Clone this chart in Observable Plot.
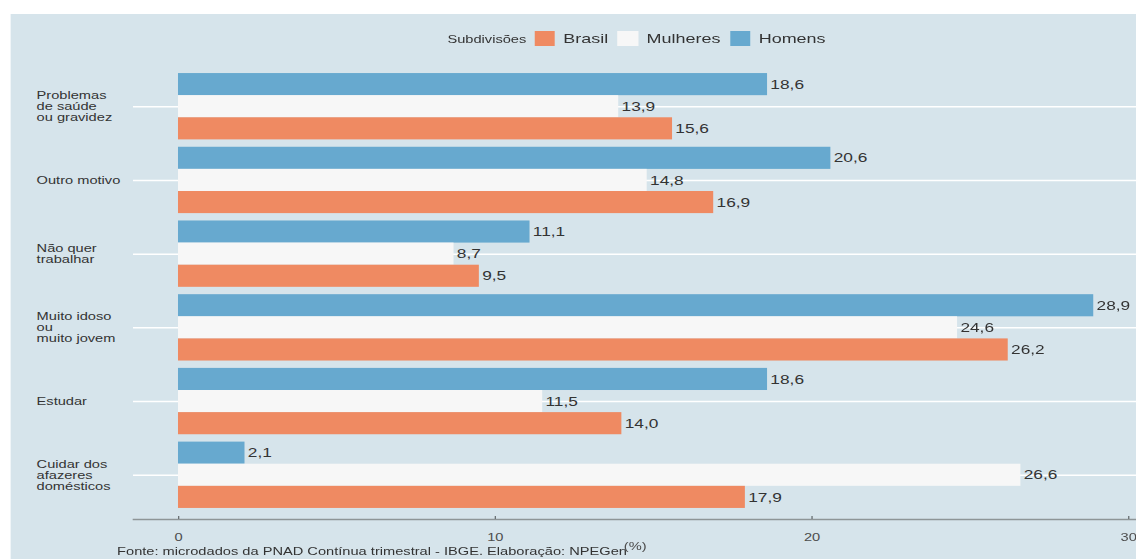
<!DOCTYPE html>
<html>
<head>
<meta charset="utf-8">
<script src="https://cdn.jsdelivr.net/npm/d3@7"></script>
<script src="https://cdn.jsdelivr.net/npm/@observablehq/plot@0.6"></script>
<style>
  html, body { margin: 0; padding: 0; background: #ffffff; width: 1136px; height: 559px; overflow: hidden; }
  #wrap { position: absolute; left: 0; top: 0; width: 854px; height: 559px; transform: scaleX(1.3302); transform-origin: 0 0; font-family: "Liberation Sans", Arial, sans-serif; }
  #panel { position: absolute; left: 7.5px; top: 14px; width: 846.5px; height: 545px; background: #d6e4eb; }
  #legend { position: absolute; left: 55px; width: 854px; top: 30px; height: 17px; display: flex; justify-content: center; align-items: center; color: #333; }
  #legend .title { font-size: 11px; margin-right: 6px; color: #333; }
  #legend .sw { width: 15.8px; height: 15px; margin-right: 6px; }
  #legend .lab { font-size: 13.5px; margin-right: 7px; }
  #chart { position: absolute; left: 0; top: 60px; }
  #caption { position: absolute; left: 88px; top: 545px; font-size: 11px; color: #333; white-space: nowrap; line-height: 13px; }
</style>
</head>
<body>
<div id="wrap">
  <div id="panel"></div>
  <div id="legend"></div>
  <div id="chart"></div>
  <div id="caption">Fonte: microdados da PNAD Contínua trimestral - IBGE. Elaboração: NPEGen</div>
</div>
<script>
// ---- data ----
const categories = [
  "Problemas\nde saúde\nou gravidez",
  "Outro motivo",
  "Não quer\ntrabalhar",
  "Muito idoso\nou\nmuito jovem",
  "Estudar",
  "Cuidar dos\nafazeres\ndomésticos"
];
const homens   = [18.6, 20.6, 11.1, 28.9, 18.6, 2.1];
const mulheres = [13.9, 14.8, 8.7, 24.6, 11.5, 26.6];
const brasil   = [15.6, 16.9, 9.5, 26.2, 14.0, 17.9];
const series = ["Brasil", "Mulheres", "Homens"];
const seriesColors = ["#ef8a62", "#f7f7f7", "#67a9cf"];
const xTicks = [0, 10, 20, 30];
const legendTitle = "Subdivisões";
const axisLabel = "(%)";

// ---- table ----
const rows = categories.flatMap((c, i) => [
  {cat: c, sub: "Homens", v: homens[i]},
  {cat: c, sub: "Mulheres", v: mulheres[i]},
  {cat: c, sub: "Brasil", v: brasil[i]}
]);

// ---- layout ----
const W = 854, H = 499, mT = 2, mB = 40, mL = 100, mR = 0;
const padIn = 0.1, padOut = 0.15;
const step = (H - mT - mB) / (categories.length - padIn + 2 * padOut);
const bw = step * (1 - padIn);
const sub = bw / 3;
const slot = {Homens: 0, Mulheres: 1, Brasil: 2};
const fmt = v => v.toFixed(1).replace(".", ",");

// ---- legend ----
const legend = document.getElementById("legend");
const t = document.createElement("span");
t.className = "title"; t.textContent = legendTitle; legend.appendChild(t);
series.forEach((s, i) => {
  const sw = document.createElement("span");
  sw.className = "sw"; sw.style.background = seriesColors[i];
  legend.appendChild(sw);
  const l = document.createElement("span");
  l.className = "lab"; l.textContent = s;
  legend.appendChild(l);
});

const barMarks = ["Homens", "Mulheres", "Brasil"].map(s =>
  Plot.barX(rows.filter(d => d.sub === s), {
    x: "v", y: "cat", fill: "sub",
    insetTop: slot[s] * sub,
    insetBottom: (2 - slot[s]) * sub
  })
);
const labelMarks = ["Homens", "Mulheres", "Brasil"].map(s =>
  Plot.text(rows.filter(d => d.sub === s), {
    x: "v", y: "cat", text: d => fmt(d.v),
    dy: (slot[s] - 1) * sub, dx: 2,
    textAnchor: "start", fill: "#333", fontSize: 13
  })
);

const chart = Plot.plot({
  width: W, height: H,
  marginLeft: mL, marginRight: mR, marginTop: mT, marginBottom: mB,
  style: {background: "transparent", fontFamily: "'Liberation Sans', Arial, sans-serif", fontSize: "11px", color: "#333", overflow: "visible"},
  x: {domain: [-1.42, 30.25], label: null},
  y: {domain: categories, paddingInner: padIn, paddingOuter: padOut, round: false, label: null},
  color: {domain: series, range: seriesColors},
  marks: [
    Plot.ruleY(categories, {y: d => d, stroke: "#ffffff", strokeWidth: 1.5}),
    ...barMarks,
    Plot.frame({anchor: "bottom", stroke: "#8e9597", strokeWidth: 1.5}),
    Plot.axisX({ticks: xTicks, tickSize: 3, tickFormat: () => "", dy: -3, stroke: "#6b7275", label: null}),
    Plot.axisX({ticks: xTicks, tickSize: 0, tickPadding: 14, fill: "#4d4d4d", fontSize: 11, label: null}),
    Plot.axisY({tickSize: 0, tickPadding: 0, textAnchor: "start", dx: -73, fill: "#333", fontSize: 11, lineHeight: 1, label: null}),
    Plot.text([axisLabel], {text: d => d, frameAnchor: "bottom", dy: 30, fill: "#4d4d4d", fontSize: 11}),
    ...labelMarks
  ]
});
document.getElementById("chart").appendChild(chart);
</script>
</body>
</html>
